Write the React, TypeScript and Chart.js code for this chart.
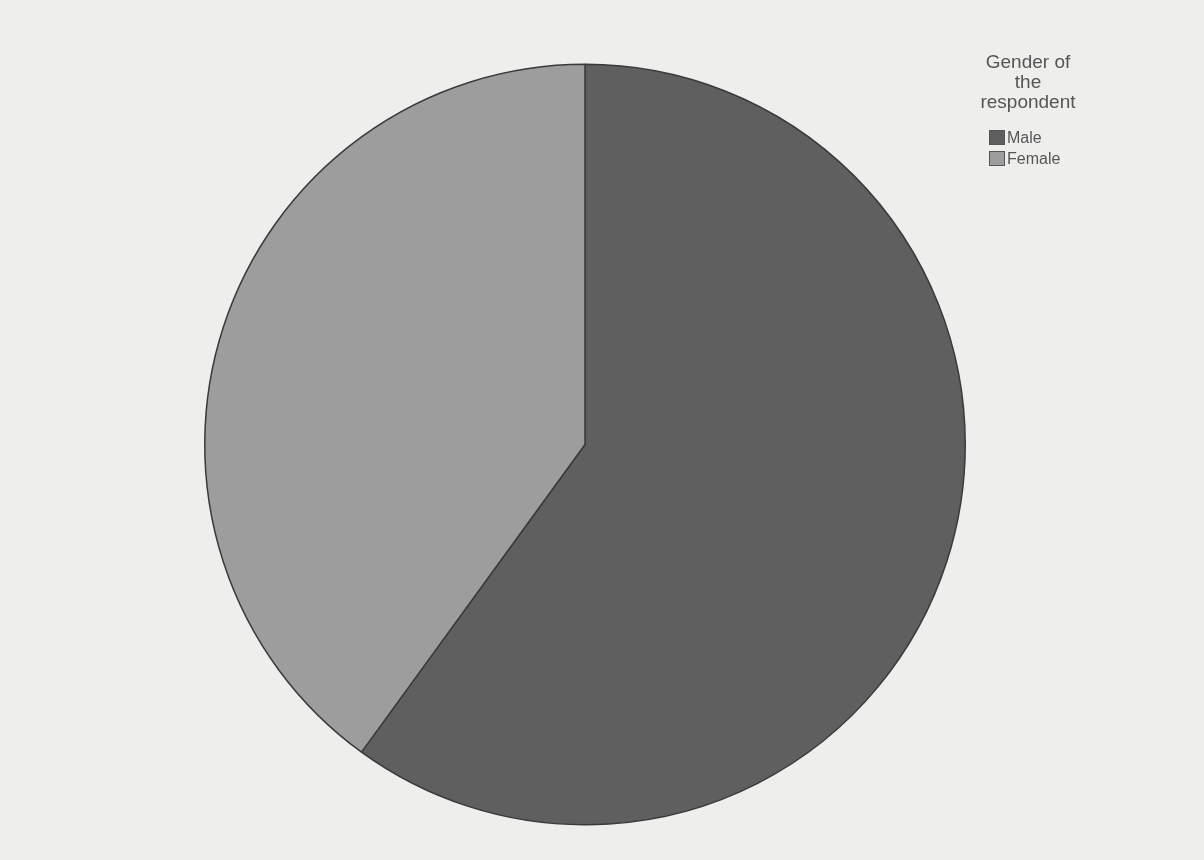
import React, { useEffect, useRef } from "react";
import { Chart, registerables } from "chart.js";

Chart.register(...registerables);

const categories = ["Male", "Female"];
const values = [60, 40];
const sliceColors = ["#5f5f5f", "#9d9d9d"];
const legendTitle = ["Gender of", "the", "respondent"];

export default function App() {
  const ref = useRef<HTMLCanvasElement | null>(null);

  useEffect(() => {
    document.body.style.margin = "0";
    if (!ref.current) return;
    const chart = new Chart(ref.current, {
      type: "pie",
      data: {
        labels: categories,
        datasets: [
          {
            data: values,
            backgroundColor: sliceColors,
            borderColor: "#3a3a3a",
            borderWidth: 1.5,
          },
        ],
      },
      options: {
        responsive: false,
        animation: false,
        layout: { padding: { top: 63, bottom: 34, left: 204, right: 238 } },
        plugins: {
          legend: { display: false },
          tooltip: { enabled: false },
        },
      },
    });
    return () => chart.destroy();
  }, []);

  return (
    <div
      style={{
        position: "absolute",
        left: 0,
        top: 0,
        width: 1204,
        height: 860,
        background: "#eeeeec",
        overflow: "hidden",
      }}
    >
      <canvas ref={ref} width={1204} height={860} style={{ position: "absolute", left: 0, top: 0 }} />
      <div
        style={{
          position: "absolute",
          left: 958,
          top: 52,
          width: 140,
          textAlign: "center",
          fontFamily: "'Liberation Sans', Arial, sans-serif",
          fontSize: 19,
          lineHeight: "20px",
          color: "#555",
        }}
      >
        {legendTitle.map((t) => (
          <div key={t}>{t}</div>
        ))}
      </div>
      <div
        style={{
          position: "absolute",
          left: 989,
          top: 127,
          fontFamily: "'Liberation Sans', Arial, sans-serif",
          fontSize: 16,
          color: "#555",
        }}
      >
        {categories.map((c, i) => (
          <div key={c} style={{ display: "flex", alignItems: "center", height: 21 }}>
            <span
              style={{
                display: "inline-block",
                width: 16,
                height: 15,
                background: sliceColors[i],
                border: "1px solid #555",
                boxSizing: "border-box",
                marginRight: 2,
              }}
            />
            <span>{c}</span>
          </div>
        ))}
      </div>
    </div>
  );
}
